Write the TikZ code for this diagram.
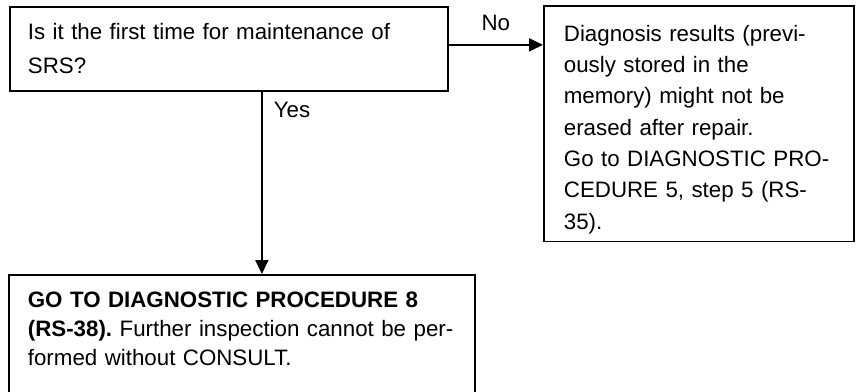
\documentclass[tikz,border=0pt]{standalone}
\usepackage{fontspec}
\setmainfont{Liberation Sans}
\frenchspacing
\usetikzlibrary{arrows.meta, positioning, calc}

\begin{document}
\begin{tikzpicture}[
    box/.style={draw, line width=1pt, align=left, anchor=north west},
    flow/.style={-{Triangle[length=0.28cm, width=0.26cm]}, line width=1pt},
    lbl/.style={font=\fontsize{12.7}{15}\selectfont}
  ]
  \clip (0,0) rectangle (17.24,-7.82);
  % question
  \node[box, text width=8.04cm, inner xsep=0.36cm, minimum height=1.68cm,
        font=\fontsize{12.7}{19.4}\selectfont] (q) at (0.18,-0.12)
    {Is it the first time for maintenance of\\SRS?};
  % answer no
  \node[box, text width=5.4cm, inner xsep=0.4cm, inner ysep=0.24cm,
        text height=0.47cm, text depth=3.76cm,
        font=\fontsize{12.7}{17.8}\selectfont] (r) at (10.86,-0.10)
    {Diagnosis results (previ-\\ously stored in the\\memory) might not be\\
     erased after repair.\\Go to DIAGNOSTIC PRO-\\CEDURE 5, step 5 (RS-\\35).};
  % answer yes (box runs off the page)
  \node[box, text width=8.56cm, inner xsep=0.38cm, inner ysep=0.16cm,
        text height=0.49cm, text depth=3cm,
        font=\fontsize{12.7}{16.5}\selectfont] (g) at (0.16,-5.48)
    {\textbf{GO TO DIAGNOSTIC PROCEDURE 8}\\\textbf{(RS-38).} Further inspection cannot be per-\\formed without CONSULT.};

  \draw[flow] ([yshift=0.08cm]q.east) -- ([yshift=0.08cm]q.east -| r.west)
    node[lbl, midway, above=4pt] {No};
  \draw[flow] ([xshift=0.66cm]q.south) -- ([xshift=0.66cm]q.south |- g.north)
    node[lbl, pos=0.1, right=3pt] {Yes};
\end{tikzpicture}
\end{document}
